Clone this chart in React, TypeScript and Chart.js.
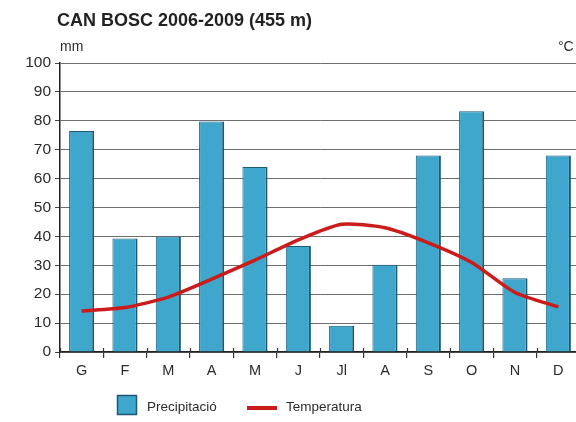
import React, { useEffect, useRef } from "react";
import { Chart, registerables } from "chart.js";

Chart.register(...registerables);

const TITLE = "CAN BOSC 2006-2009 (455 m)";
const MONTHS = ["G", "F", "M", "A", "M", "J", "Jl", "A", "S", "O", "N", "D"];
const PRECIP_MM = [76.5, 39.3, 40, 79.8, 64, 36.7, 9.1, 30.2, 68, 83.3, 25.5, 68];
const TEMP_C = [7.1, 7.7, 9.5, 12.6, 15.9, 19.4, 22.1, 21.5, 18.9, 15.5, 10.3, 7.8];
const PRECIP_LABEL = "Precipitació";
const TEMP_LABEL = "Temperatura";

const BAR_FILL = "#3fa7cb";
const BAR_EDGE = "#1c5878";
const LINE_RED = "#cc1b1b";
const TEXT = "#2b2b2b";
const FONT = "'Liberation Sans', Arial, Helvetica, sans-serif";

export default function App() {
  const ref = useRef<HTMLCanvasElement | null>(null);

  useEffect(() => {
    const canvas = ref.current;
    if (!canvas) return;

    const decor = {
      id: "decor",
      afterDatasetsDraw(chart: any) {
        const { ctx, chartArea, scales } = chart;
        const x = scales.x;
        ctx.save();
        ctx.strokeStyle = "#333";
        ctx.lineWidth = 1.2;
        for (let i = 0; i <= MONTHS.length; i++) {
          const px = Math.round(x.left + (i * (x.right - x.left)) / MONTHS.length) + 0.5;
          ctx.beginPath();
          ctx.moveTo(px, chartArea.bottom - 4);
          ctx.lineTo(px, chartArea.bottom);
          ctx.stroke();
        }
        ctx.restore();
      },
      afterDraw(chart: any) {
        const { ctx } = chart;
        ctx.save();
        ctx.fillStyle = "#222";
        ctx.textBaseline = "alphabetic";
        ctx.textAlign = "left";
        ctx.font = `bold 18px ${FONT}`;
        ctx.fillText(TITLE, 57, 26);

        ctx.fillStyle = TEXT;
        ctx.font = `14px ${FONT}`;
        ctx.fillText("mm", 60, 51);
        ctx.fillText("°C", 558, 51);

        const ds0 = chart.data.datasets[0];
        const ds1 = chart.data.datasets[1];
        ctx.fillStyle = ds0.backgroundColor;
        ctx.fillRect(117, 395, 20, 20);
        ctx.strokeStyle = BAR_EDGE;
        ctx.lineWidth = 1.5;
        ctx.strokeRect(117.5, 395.5, 19, 19);
        ctx.fillStyle = TEXT;
        ctx.font = `13.5px ${FONT}`;
        ctx.textBaseline = "middle";
        ctx.fillText(ds0.label, 147, 407);
        ctx.strokeStyle = ds1.borderColor;
        ctx.lineWidth = 4;
        ctx.beginPath();
        ctx.moveTo(247, 408);
        ctx.lineTo(277, 408);
        ctx.stroke();
        ctx.fillText(ds1.label, 286, 407);
        ctx.restore();
      },
    };

    const chart = new Chart(canvas, {
      type: "bar",
      data: {
        labels: MONTHS,
        datasets: [
          {
            type: "bar",
            label: PRECIP_LABEL,
            data: PRECIP_MM,
            backgroundColor: BAR_FILL,
            borderColor: BAR_EDGE,
            borderWidth: { top: 1, left: 1, right: 2, bottom: 0 },
            borderSkipped: false,
            barPercentage: 0.58,
            categoryPercentage: 1,
            yAxisID: "y",
            order: 2,
          },
          {
            type: "line",
            label: TEMP_LABEL,
            data: TEMP_C,
            borderColor: LINE_RED,
            backgroundColor: LINE_RED,
            borderWidth: 3.5,
            pointRadius: 0,
            tension: 0.22,
            fill: false,
            yAxisID: "y1",
            order: 1,
          },
        ],
      },
      options: {
        responsive: false,
        animation: false,
        layout: { padding: { top: 63, left: 0, right: 20, bottom: 0 } },
        plugins: {
          legend: { display: false },
          tooltip: { enabled: false },
          title: { display: false },
        },
        scales: {
          x: {
            afterFit: (s: any) => {
              s.height = 70;
            },
            grid: {
              offset: true,
              drawOnChartArea: false,
              drawTicks: true,
              tickLength: 6,
              color: "#333",
              lineWidth: 1.2,
            },
            border: { display: true, color: "#222", width: 1.5 },
            ticks: {
              color: TEXT,
              font: { family: FONT, size: 14.5 },
              padding: 4,
            },
          },
          y: {
            position: "left",
            min: 0,
            max: 100,
            afterFit: (s: any) => {
              s.width = 60;
            },
            ticks: {
              stepSize: 10,
              color: TEXT,
              font: { family: FONT, size: 15.5 },
              padding: 4,
            },
            grid: {
              color: "#6e6e6e",
              lineWidth: 1,
              tickLength: 5,
              tickColor: "#444",
            },
            border: { display: true, color: "#222", width: 1.5 },
          },
          y1: {
            display: false,
            position: "right",
            min: 0,
            max: 50,
          },
        },
      },
      plugins: [decor],
    });

    return () => chart.destroy();
  }, []);

  return (
    <div
      style={{
        position: "fixed",
        left: 0,
        top: 0,
        width: 576,
        height: 422,
        overflow: "hidden",
        background: "#fff",
      }}
    >
      <canvas ref={ref} width={600} height={422} style={{ display: "block", width: 600, height: 422 }} />
    </div>
  );
}
